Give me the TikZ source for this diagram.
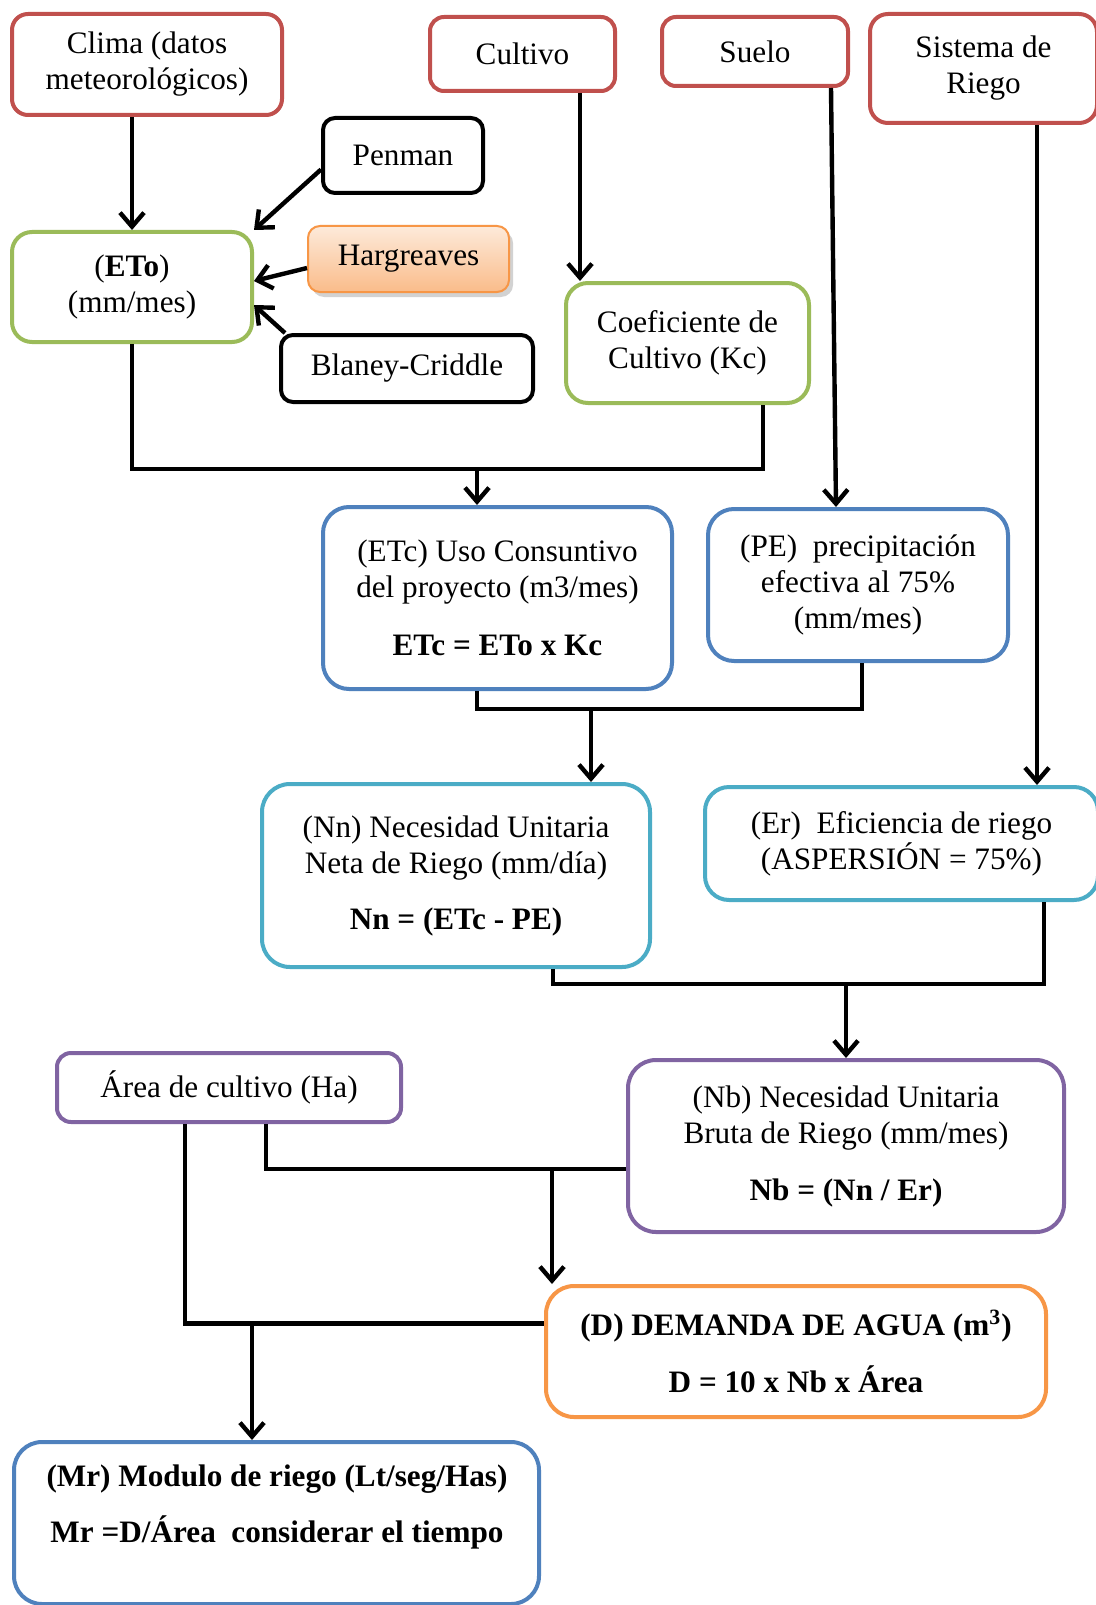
\documentclass[tikz,border=0pt]{standalone}
\usepackage{fontspec}
\setmainfont{Liberation Serif}
\usetikzlibrary{arrows.meta,calc,shadows}
\definecolor{cred}{HTML}{C0504D}
\definecolor{cgreen}{HTML}{9BBB59}
\definecolor{cblue}{HTML}{4F81BD}
\definecolor{ccyan}{HTML}{4BACC6}
\definecolor{cpurple}{HTML}{8064A2}
\definecolor{corange}{HTML}{F79646}
\definecolor{hgtop}{RGB}{253,234,218}
\definecolor{hgbot}{RGB}{250,188,138}
\begin{document}
\begin{tikzpicture}[x=0.5pt,y=-0.5pt,
  box/.style={draw, line width=2pt, fill=white, rounded corners=#1, align=center,
    inner sep=0pt, font=\fontsize{15.6}{18}\selectfont},
  box/.default=8pt,
  txt/.style={align=center, inner sep=0pt, font=\fontsize{15.6}{18}\selectfont},
  ln/.style={line width=2.2pt},
  arr/.style={line width=2.2pt, -{Straight Barb[length=7pt,width=12pt]}},
]
\begin{scope}
\clip (0,0) rectangle (1096,1605);
\fill[white] (0,0) rectangle (1096,1605);

% top row
\node[box=8pt, draw=cred, minimum width=135pt, minimum height=50.5pt] (clima) at (147,64.5) {Clima (datos\\meteorológicos)};
\node[box=7pt, draw=cred, minimum width=92.5pt, minimum height=37pt] (cultivo) at (522.5,54) {Cultivo};
\node[box=7pt, draw=cred, minimum width=93pt, minimum height=34.5pt] (suelo) at (755,51.5) {Suelo};
\node[box=9pt, draw=cred, minimum width=113.5pt, minimum height=54.5pt] (sistema) at (983.5,68.5) {Sistema de\\Riego};

% methods
\node[box=6pt, draw=black, minimum width=80pt, minimum height=37.5pt] (penman) at (403,155.5) {Penman};
\node[box=6pt, draw=corange, line width=1pt, top color=hgtop, bottom color=hgbot,
  drop shadow={opacity=0.35, shadow xshift=2pt, shadow yshift=-2.5pt},
  minimum width=100.5pt, minimum height=33pt] (harg) at (408.5,259) {Hargreaves};
\node[box=6pt, draw=black, minimum width=126pt, minimum height=33.5pt] (blaney) at (407,368.5) {Blaney-Criddle};
\node[box=10pt, draw=cgreen, minimum width=120pt, minimum height=55pt] (eto) at (132,287) {(\textbf{ETo})\\(mm/mes)};
\node[box=11pt, draw=cgreen, minimum width=121.5pt, minimum height=60pt] (kc) at (687.5,343) {Coeficiente de\\Cultivo (Kc)};

% middle
\node[box=13pt, draw=cblue, minimum width=174.5pt, minimum height=91pt] (etc) at (497.5,598) {(ETc) Uso Consuntivo\\del proyecto (m3/mes)\\[11pt]\textbf{ETc = ETo x Kc}};
\node[box=13pt, draw=cblue, minimum width=150pt, minimum height=76pt] (pe) at (858,585) {(PE)\enspace precipitación\\efectiva al 75\%\\(mm/mes)};
\node[box=14pt, draw=ccyan, minimum width=194pt, minimum height=91.5pt] (nn) at (456,875.5) {(Nn) Necesidad Unitaria\\Neta de Riego (mm/día)\\[10pt]\textbf{Nn = (ETc - PE)}};
\node[box=12pt, draw=ccyan, minimum width=196.5pt, minimum height=56.5pt] (er) at (901.5,843.5) {(Er)\enspace Eficiencia de riego\\(ASPERSIÓN = 75\%)};

% lower
\node[box=14pt, draw=cpurple, minimum width=218pt, minimum height=86pt] (nb) at (846,1146) {(Nb) Necesidad Unitaria\\Bruta de Riego (mm/mes)\\[10.5pt]\textbf{Nb = (Nn / Er)}};
\node[box=7pt, draw=cpurple, minimum width=172pt, minimum height=34.5pt] (area) at (229,1087.5) {Área de cultivo (Ha)};
\node[box=14pt, draw=corange, minimum width=250pt, minimum height=65.5pt] (dem) at (796,1351.5) {\textbf{(D) DEMANDA DE AGUA (m\textsuperscript{3})}\\[10.5pt]\textbf{D = 10 x Nb x Área}};
\node[box=14pt, draw=cblue, minimum width=262.5pt, minimum height=81pt] (mr) at (276.5,1523) {};
\node[txt] (mrtext) at (277,1507) {\textbf{(Mr) Modulo de riego (Lt/seg/Has)}\\[10pt]\textbf{Mr =D/Área\ \ considerar el tiempo}};

% connectors to ETo
\draw[arr] (eto.north |- clima.south) -- (eto.north);
\draw[arr] ([yshift=-7pt]penman.west) -- (eto.north east);
\draw[arr] ([yshift=-4.5pt]harg.west) -- ([yshift=3pt]eto.east);
\draw[arr] ([xshift=3pt]blaney.north west) -- ([yshift=-9pt]eto.east);

% Cultivo -> Kc
\coordinate (cu) at ([xshift=76pt]cultivo.south west);
\draw[arr] (cu) -- (cu |- kc.north);

% Suelo -> PE
\coordinate (su) at ([xshift=-9.5pt]suelo.south east);
\coordinate (pen) at ([xshift=-11pt]pe.north);
\draw[arr] (su) -- (pen);

% Sistema -> Er
\coordinate (si) at ([xshift=84.5pt]sistema.south west);
\draw[arr] (si) -- (si |- er.north);

% ETo + Kc -> ETc
\coordinate (j1) at ($(eto.south)+(0,125)$);
\coordinate (kcb) at ([xshift=-24pt]kc.south east);
\draw[ln] (eto.south) -- (j1) -| (kcb);
\coordinate (etn) at ([xshift=78pt]etc.north west);
\draw[arr] (etn |- j1) -- (etn);

% ETc + PE -> Nn
\coordinate (etb) at ([xshift=78pt]etc.south west);
\coordinate (j2) at ($(etb)+(0,18)$);
\coordinate (peb) at ([xshift=78pt]pe.south west);
\draw[ln] (etb) -- (j2) -| (peb);
\coordinate (nnn) at ([xshift=165.5pt]nn.north west);
\draw[arr] (nnn |- j2) -- (nnn);

% Nn + Er -> Nb
\coordinate (nnb) at ([xshift=146.5pt]nn.south west);
\coordinate (j3) at ($(nnb)+(0,15)$);
\coordinate (erb) at ([xshift=170.5pt]er.south west);
\draw[ln] (nnb) -- (j3) -| (erb);
\draw[arr] (nb.north |- j3) -- (nb.north);

% Area + Nb -> D
\coordinate (a1) at ([xshift=105.5pt]area.south west);
\coordinate (j4) at ([yshift=-11.5pt]nb.west);
\draw[ln] (a1) |- (j4);
\coordinate (dn) at ([xshift=4pt]dem.north west);
\draw[arr] (dn |- j4) -- (dn);

% Area + D -> Mr
\coordinate (a2) at ([xshift=65pt]area.south west);
\coordinate (j5) at ([yshift=14pt]dem.west);
\draw[ln] (a2) |- (j5);
\coordinate (mn) at ([xshift=120pt]mr.north west);
\draw[arr] (mn |- j5) -- (mn);
\end{scope}
\pgfresetboundingbox
\useasboundingbox (0,0) rectangle (1096,1605);
\end{tikzpicture}
\end{document}
